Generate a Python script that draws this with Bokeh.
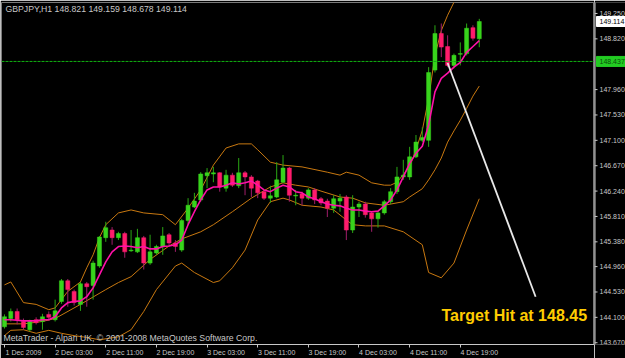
from bokeh.plotting import figure
from bokeh.layouts import row
from bokeh.models import (Range1d, LinearAxis, FixedTicker, ColumnDataSource, Label, Span)
from bokeh.core.properties import value
from bokeh.embed import file_html
from bokeh.resources import INLINE

# ---------------- data (GBPJPY H1, bar 0 = 1 Dec 2009 19:00) ----------------
opens = [143.94, 144.08, 144.20, 144.03, 143.89, 144.06, 144.03, 144.15, 144.06, 144.37,
         144.72, 144.54, 144.32, 144.67, 144.64, 144.97, 145.45, 145.58, 145.45, 145.52,
         145.23, 145.21, 145.45, 145.02, 145.19, 145.30, 145.50, 145.36, 145.24, 145.74,
         145.97, 146.09, 146.50, 146.53, 146.55, 146.29, 146.51, 146.33, 146.55, 146.48,
         146.41, 146.23, 146.12, 146.14, 146.39, 146.63, 146.16, 146.19, 146.12, 146.26,
         146.11, 146.07, 145.95, 146.07, 146.14, 145.58, 145.97, 146.02, 145.87, 145.77,
         145.87, 146.06, 146.23, 146.48, 146.48, 146.82, 147.10, 147.10, 148.29, 148.91,
         148.69, 148.37, 148.56, 148.57, 149.01, 148.821]
highs = [144.15, 144.25, 144.25, 144.08, 144.06, 144.10, 144.16, 144.20, 144.40, 144.75,
         144.75, 144.57, 144.70, 144.70, 145.06, 145.48, 145.72, 145.63, 145.55, 145.55,
         145.58, 145.60, 145.48, 145.50, 145.33, 145.63, 145.53, 145.41, 145.77, 146.12,
         146.21, 146.56, 146.63, 146.65, 146.56, 146.60, 146.55, 146.80, 146.58, 146.51,
         146.43, 146.26, 146.33, 146.73, 146.85, 146.65, 146.26, 146.23, 146.29, 146.29,
         146.14, 146.11, 146.17, 146.19, 146.17, 146.17, 146.06, 146.06, 145.90, 145.90,
         146.09, 146.29, 146.65, 146.77, 146.99, 147.19, 147.32, 148.34, 149.05, 149.08,
         148.88, 148.57, 148.76, 149.08, 149.05, 149.159]
lows = [143.91, 144.03, 143.98, 143.89, 143.86, 143.98, 143.89, 144.06, 144.03, 144.33,
        144.28, 144.30, 144.21, 144.28, 144.40, 144.94, 145.38, 145.33, 145.41, 145.11,
        145.21, 145.19, 144.91, 144.99, 145.16, 145.16, 145.31, 145.21, 145.21, 145.67,
        145.95, 146.06, 146.29, 146.39, 146.23, 146.23, 146.31, 146.29, 146.17, 146.14,
        146.12, 146.09, 146.04, 146.12, 146.38, 146.06, 146.00, 146.00, 146.09, 146.02,
        146.00, 145.80, 145.87, 145.89, 145.41, 145.53, 145.80, 145.79, 145.55, 145.62,
        145.84, 146.02, 146.19, 146.43, 146.43, 146.80, 147.07, 146.99, 148.25, 148.51,
        148.34, 148.32, 148.37, 148.54, 148.79, 148.678]
closes = [144.11, 144.20, 144.06, 143.93, 144.03, 144.01, 144.11, 144.10, 144.21, 144.72,
          144.57, 144.35, 144.67, 144.62, 145.02, 145.46, 145.62, 145.45, 145.52, 145.21,
          145.24, 145.45, 145.02, 145.21, 145.30, 145.48, 145.36, 145.30, 145.74, 146.00,
          146.07, 146.53, 146.55, 146.55, 146.31, 146.51, 146.34, 146.55, 146.48, 146.29,
          146.21, 146.12, 146.16, 146.43, 146.63, 146.17, 146.17, 146.12, 146.26, 146.09,
          146.04, 145.95, 146.11, 146.12, 145.58, 145.97, 146.02, 145.84, 145.77, 145.87,
          146.06, 146.23, 146.48, 146.51, 146.82, 147.07, 147.15, 148.25, 148.91, 148.68,
          148.37, 148.54, 148.57, 149.00, 148.83, 149.114]

# short moving average (magenta)
ma = [144.06, 144.06, 144.05, 144.04, 144.04, 144.04, 144.06, 144.06, 144.11, 144.26,
      144.35, 144.37, 144.38, 144.45, 144.60, 144.82, 145.04, 145.21, 145.30, 145.31,
      145.30, 145.28, 145.30, 145.26, 145.26, 145.30, 145.31, 145.33, 145.41, 145.67,
      145.89, 146.09, 146.26, 146.31, 146.31, 146.34, 146.38, 146.36, 146.38, 146.41,
      146.34, 146.26, 146.23, 146.29, 146.34, 146.31, 146.23, 146.21, 146.14, 146.11,
      146.06, 146.02, 146.00, 145.99, 145.95, 145.92, 145.92, 145.90, 145.89, 145.90,
      145.99, 146.09, 146.26, 146.48, 146.71, 146.88, 147.00, 147.36, 147.92, 148.15,
      148.24, 148.34, 148.42, 148.59, 148.69, 148.79]

# Bollinger bands (orange), read at selected bars
upper_idx = [0, 1, 3, 5, 7, 8, 10, 12, 13, 14, 15, 16, 18, 20, 22, 25, 27, 29, 31, 33, 35,
             37, 39, 40, 42, 44, 47, 51, 53, 54, 56, 58, 60, 61, 62, 64, 65, 66, 67, 68,
             69, 70, 71, 72]
upper_val = [144.65, 144.70, 144.35, 144.32, 144.23, 144.26, 144.54, 144.70, 144.94, 145.16,
             145.45, 145.67, 145.87, 145.92, 145.87, 145.84, 145.67, 145.95, 146.26, 146.68,
             146.97, 147.04, 147.04, 146.94, 146.73, 146.68, 146.65, 146.56, 146.51, 146.56,
             146.51, 146.38, 146.34, 146.34, 146.39, 146.65, 146.94, 147.27, 147.81, 148.54,
             148.96, 149.22, 149.44, 149.67]
middle_idx = [0, 3, 6, 8, 12, 16, 18, 20, 23, 26, 28, 31, 33, 36, 39, 42, 44, 46, 48, 50,
              53, 55, 57, 60, 63, 64, 66, 67, 68, 69, 70, 71, 72, 73, 74, 75]
middle_val = [143.99, 143.99, 144.03, 144.08, 144.32, 144.57, 144.69, 144.79, 145.08, 145.31,
              145.43, 145.55, 145.67, 145.89, 146.12, 146.31, 146.38, 146.34, 146.31, 146.24,
              146.14, 146.12, 146.04, 146.00, 146.06, 146.14, 146.28, 146.43, 146.60, 146.80,
              147.07, 147.26, 147.44, 147.64, 147.85, 148.02]
lower_idx = [0, 1, 3, 5, 7, 9, 11, 13, 15, 18, 20, 22, 24, 27, 28, 30, 33, 34, 36, 38, 40,
             42, 44, 45, 47, 50, 52, 54, 55, 57, 60, 63, 66, 67, 69, 71, 73, 75]
lower_val = [143.79, 143.88, 143.89, 143.83, 143.88, 143.83, 143.79, 143.76, 143.72, 143.77,
             143.89, 144.20, 144.57, 144.97, 145.02, 144.86, 144.69, 144.72, 144.94, 145.24,
             145.75, 146.06, 146.12, 146.09, 146.00, 145.97, 145.92, 145.75, 145.67, 145.65,
             145.65, 145.55, 145.33, 144.86, 144.77, 145.02, 145.58, 146.11]

# hand-drawn target line (bar index, price)
trend_x = [70.0, 83.9]
trend_y = [148.41, 144.45]

level_price = 148.437
price_ticks = [143.670, 144.100, 144.530, 144.960, 145.380, 145.810, 146.240, 146.670,
               147.100, 147.530, 147.960, 148.820, 149.250]
time_ticks = [0, 8, 16, 24, 32, 40, 48, 56, 64, 72]
time_labels = ["1 Dec 2009", "2 Dec 03:00", "2 Dec 11:00", "2 Dec 19:00", "3 Dec 03:00",
               "3 Dec 11:00", "3 Dec 19:00", "4 Dec 03:00", "4 Dec 11:00", "4 Dec 19:00"]
header = "GBPJPY,H1  148.821 149.159 148.678 149.114"
footer = "MetaTrader - Alpari UK, \u00a9 2001-2008 MetaQuotes Software Corp."
note = "Target Hit at 148.45"

# ---------------- styling ----------------
BG = "#000000"
AX = "#c8c8c8"
BULL = "#38d41c"
BEAR = "#ff1c6c"
BULL_WICK = "#2aa814"
BEAR_WICK = "#a01e6a"
MA_COL = "#ff10a8"
BAND_COL = "#c87810"
FONT = "Liberation Sans"
TOP_B, BOT_B = 2, 14
Y_RANGE = Range1d(143.64, 149.436)

n = len(opens)
idx = list(range(n))
top = [max(o, c) for o, c in zip(opens, closes)]
bot = [min(o, c) for o, c in zip(opens, closes)]
bot = [b if t - b > 0.012 else t - 0.012 for t, b in zip(top, bot)]
bull = [c >= o for o, c in zip(opens, closes)]
src = ColumnDataSource(dict(
    x=idx, top=top, bot=bot, high=highs, low=lows,
    body=[BULL if b else BEAR for b in bull],
    wick=[BULL_WICK if b else BEAR_WICK for b in bull],
))

# ---------------- main chart ----------------
p = figure(width=594, height=358, output_backend="svg", toolbar_location=None,
           x_range=Range1d(-0.47, 93.2), y_range=Y_RANGE,
           x_axis_location=None, y_axis_location=None,
           min_border_left=1, min_border_top=TOP_B, min_border_right=0,
           min_border_bottom=BOT_B,
           background_fill_color=BG, border_fill_color=BG,
           outline_line_color="#7a7a7a", outline_line_width=1)
p.grid.visible = False

# bottom time axis: tick marks (minor) at the bars, labels starting at the tick
label_ticks = [t + 3 for t in time_ticks]
xax = LinearAxis(ticker=FixedTicker(ticks=label_ticks, minor_ticks=time_ticks),
                 major_label_overrides={t: s for t, s in zip(label_ticks, time_labels)},
                 major_tick_out=0, major_tick_in=0, minor_tick_out=3, minor_tick_in=0,
                 axis_line_color=AX, major_tick_line_color=None, minor_tick_line_color=AX,
                 major_label_text_color=AX, major_label_text_font=FONT,
                 major_label_text_font_size="7px", major_label_standoff=1)
p.add_layout(xax, "below")

# level line
p.add_layout(Span(location=level_price, dimension="width", line_color="#10b010",
                  line_width=1, line_dash="3 1"))

# bands
p.line(upper_idx, upper_val, line_color=BAND_COL, line_width=1)
p.line(middle_idx, middle_val, line_color=BAND_COL, line_width=1)
p.line(lower_idx, lower_val, line_color=BAND_COL, line_width=1)

# candles
p.segment(x0="x", y0="high", x1="x", y1="low", line_color="wick", line_width=1, source=src)
p.vbar(x="x", top="top", bottom="bot", width=0.64, fill_color="body", line_color="body",
       line_width=0.5, source=src)

# moving average
p.line(idx, ma, line_color=MA_COL, line_width=1.6)

# target line
p.line(trend_x, trend_y, line_color="#e8e8e8", line_width=1.8)

# texts
p.add_layout(Label(x=4, y=336, x_units="screen", y_units="screen", text=header,
                   text_color=AX, text_font=FONT, text_font_size="8.7px",
                   text_baseline="middle"))
p.add_layout(Label(x=2, y=7, x_units="screen", y_units="screen", text=footer,
                   text_color=AX, text_font=FONT, text_font_size="8.7px",
                   text_baseline="middle"))
p.add_layout(Label(x=440, y=29, x_units="screen", y_units="screen", text=note,
                   text_color="#ffcc00", text_font=FONT, text_font_size="16px",
                   text_font_style="bold", text_baseline="middle"))

# ---------------- price scale (right strip) ----------------
s = figure(width=31, height=358, output_backend="svg", toolbar_location=None,
           x_range=Range1d(0, 31), y_range=Y_RANGE,
           x_axis_location=None, y_axis_location=None,
           min_border_left=0, min_border_right=0, min_border_top=TOP_B,
           min_border_bottom=BOT_B,
           background_fill_color=BG, border_fill_color=BG, outline_line_color=None)
s.grid.visible = False
s.add_layout(Span(location=0.5, dimension="height", line_color=AX, line_width=1))
s.segment(x0=[0] * len(price_ticks), x1=[3] * len(price_ticks), y0=price_ticks,
          y1=price_ticks, line_color=AX, line_width=1)
s.text(x=[5] * len(price_ticks), y=price_ticks, text=["%.3f" % v for v in price_ticks],
       text_color=AX, text_font=value(FONT), text_font_size="7px", text_baseline="middle")

box_prices = [closes[-1], level_price]
box_fill = ["#ffffff", "#22cc22"]
box_text = ["#000000", "#0b4d0b"]
s.rect(x=[16.5, 16.5], y=box_prices, width=[29, 29], height=[10, 10],
       height_units="screen", fill_color=box_fill, line_color=box_fill)
s.text(x=[5, 5], y=box_prices, text=["%.3f" % v for v in box_prices],
       text_color=box_text, text_font=value(FONT), text_font_size="7px",
       text_baseline="middle")

layout = row(p, s, spacing=0)
open("out.html", "w").write(file_html(layout, INLINE))
